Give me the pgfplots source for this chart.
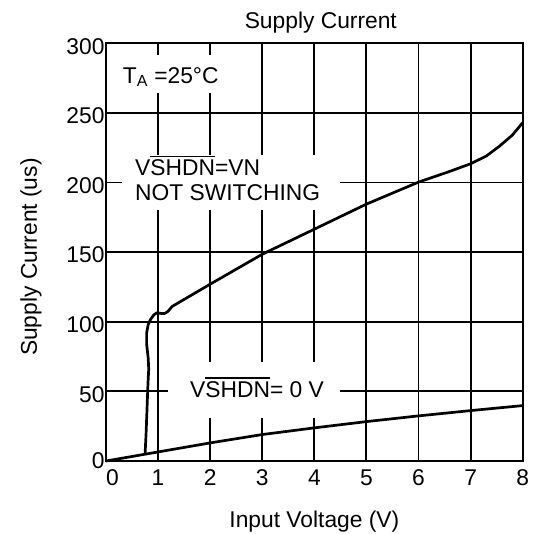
\documentclass[border=0pt]{standalone}
\usepackage{fontspec}
\setmainfont{Liberation Sans}
\usepackage{pgfplots}
\pgfplotsset{compat=1.18}
\newcommand\fsz{\fontsize{22.8bp}{26bp}\selectfont}
\newcommand\ovl[1]{\leavevmode\vbox{\hrule height 1.6bp\kern 2.4bp\hbox{#1}}}
\begin{document}
\begin{tikzpicture}[font=\fsz]
\path[use as bounding box] (0,0) rectangle (534bp,534bp);
\begin{axis}[
 scale only axis, width=416.7bp, height=417.7bp,
 at={(106bp,73bp)}, anchor=south west,
 xmin=0,xmax=8,ymin=0,ymax=300,
 xtick={0,1,...,8}, ytick={0,50,100,...,300},
 grid=major, major grid style={draw=black, line width=1.9bp},
 axis line style={draw=black, line width=2bp},
 major tick length=0pt,
 tick label style={font=\fsz},
 /pgf/number format/assume math mode=true,
 xticklabel={\ifnum\ticknum=0 \hspace*{13bp}\fi\pgfmathprintnumber{\tick}},
 yticklabel={\ifnum\ticknum=0 \raisebox{6bp}{0}\else\pgfmathprintnumber{\tick}\fi},
 yticklabel style={yshift=-3bp, xshift=2bp},
 xticklabel style={yshift=-5bp},
 title={Supply Current},
 every axis title/.style={at={(rel axis cs:0.5155,1.0364)}, anchor=base, font=\fsz},
 xlabel={Input Voltage (V)},
 every axis x label/.style={at={(rel axis cs:0.5,-0.1598)}, anchor=base, font=\fsz},
 ylabel={Supply Current (us)},
 every axis y label/.style={at={(rel axis cs:-0.1656,0.488)}, anchor=base, rotate=90, font=\fsz},
 clip=false,
]
% white label backgrounds
\fill[white] (axis cs:0.115,264.3) rectangle (axis cs:2.42,291.6);
\fill[white] (axis cs:0.307,180.3) rectangle (axis cs:4.49,219.8);
\fill[white] (axis cs:1.19,30.9) rectangle (axis cs:4.49,71.1);

\addplot[black, line width=2.7bp, line join=round] coordinates {
(0,0) (1,6.5) (2,13) (3,19) (4,23.8) (5,28.3) (6,32.4) (7,36.2) (8,39.8)
};
\addplot[black, line width=2.7bp, line join=round] coordinates {
(0.75,5) (0.77,20) (0.79,40) (0.805,55) (0.82,66) (0.81,74) (0.78,84) (0.78,92) (0.81,98) (0.86,102) (0.92,105) (0.98,106.5) (1.05,106) (1.13,106) (1.19,107.5) (1.27,111) (2,127) (3,148.5) (4,166.5) (5,184.5) (6,200.3) (6.6,208) (7,213.5) (7.3,219) (7.55,226) (7.8,234) (8,243)
};

\node[anchor=base west, inner sep=0pt] at (axis cs:0.32,271.3) {T\textsubscript{A} =25°C};
\node[anchor=base west, inner sep=0pt] at (axis cs:0.557,204.9) {V\ovl{SHDN}=VN};
\node[anchor=base west, inner sep=0pt] at (axis cs:0.557,187.0) {NOT SWITCHING};
\node[anchor=base west, inner sep=0pt] at (axis cs:1.613,45.75) {V\ovl{SHDN}= 0 V};
\end{axis}
\end{tikzpicture}
\end{document}
